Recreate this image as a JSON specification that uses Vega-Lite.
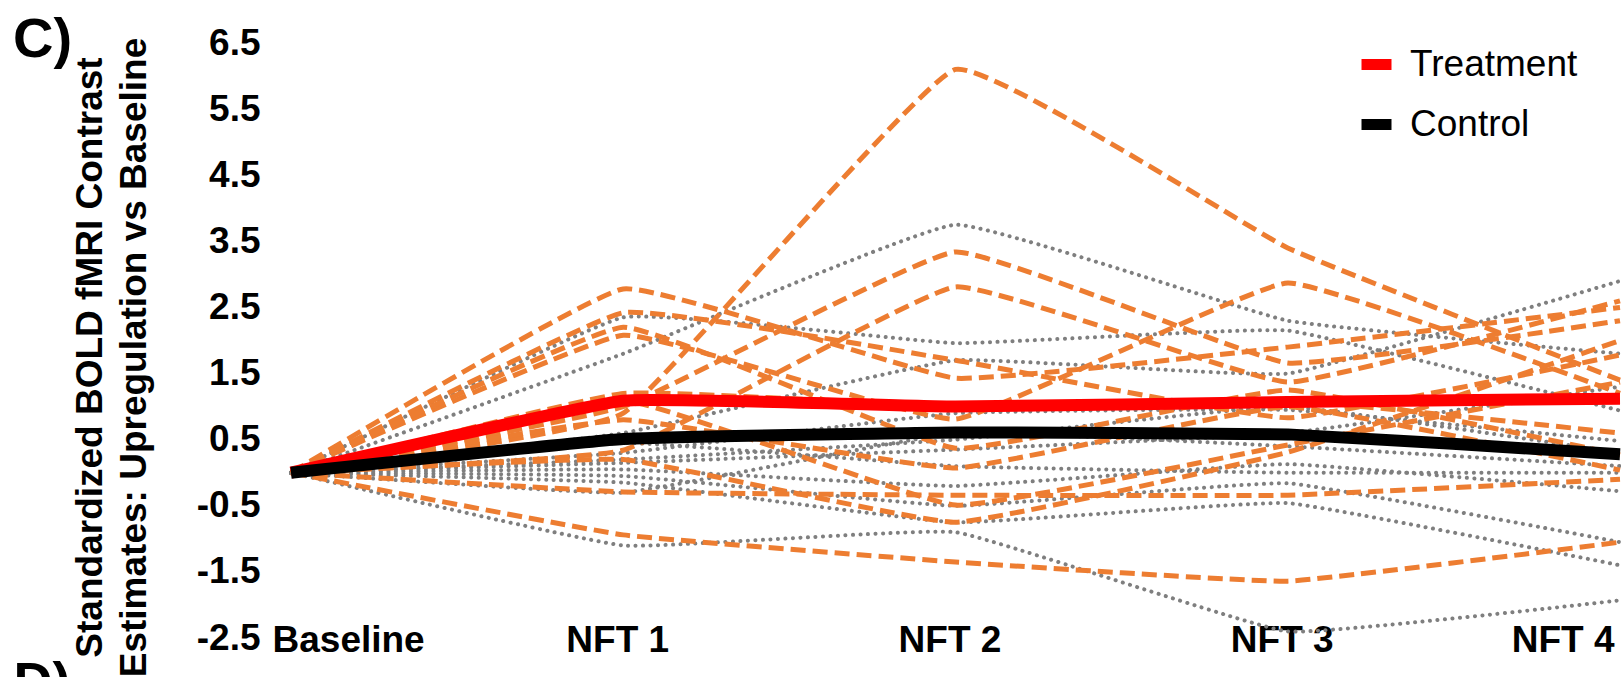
{
  "$schema": "https://vega.github.io/schema/vega-lite/v6.json",
  "autosize": {"type": "none"},
  "padding": {"left": 291, "top": 43, "right": 1, "bottom": 39},
  "width": 1329,
  "height": 595,
  "background": "white",
  "config": {
    "view": {"stroke": null},
    "font": "Liberation Sans"
  },
  "title": {
    "text": "C)",
    "anchor": "start",
    "frame": "group",
    "orient": "top",
    "fontSize": 56,
    "fontWeight": "bold",
    "font": "Liberation Sans",
    "color": "#000000",
    "baseline": "alphabetic",
    "offset": 0,
    "dx": -278,
    "dy": 89
  },
  "datasets": {
    "subjects": [
      {"subject": "T1", "group": "Treatment", "time": "Baseline", "value": 0},
      {"subject": "T1", "group": "Treatment", "time": "NFT 1", "value": 0.9},
      {"subject": "T1", "group": "Treatment", "time": "NFT 2", "value": 6.1},
      {"subject": "T1", "group": "Treatment", "time": "NFT 3", "value": 3.4},
      {"subject": "T1", "group": "Treatment", "time": "NFT 4", "value": 1.4},
      {"subject": "T2", "group": "Treatment", "time": "Baseline", "value": 0},
      {"subject": "T2", "group": "Treatment", "time": "NFT 1", "value": 1.0},
      {"subject": "T2", "group": "Treatment", "time": "NFT 2", "value": 3.34},
      {"subject": "T2", "group": "Treatment", "time": "NFT 3", "value": 1.66},
      {"subject": "T2", "group": "Treatment", "time": "NFT 4", "value": 2.3},
      {"subject": "T3", "group": "Treatment", "time": "Baseline", "value": 0},
      {"subject": "T3", "group": "Treatment", "time": "NFT 1", "value": 0.34},
      {"subject": "T3", "group": "Treatment", "time": "NFT 2", "value": 2.81},
      {"subject": "T3", "group": "Treatment", "time": "NFT 3", "value": 1.37},
      {"subject": "T3", "group": "Treatment", "time": "NFT 4", "value": 2.6},
      {"subject": "T4", "group": "Treatment", "time": "Baseline", "value": 0},
      {"subject": "T4", "group": "Treatment", "time": "NFT 1", "value": 2.78},
      {"subject": "T4", "group": "Treatment", "time": "NFT 2", "value": 1.43},
      {"subject": "T4", "group": "Treatment", "time": "NFT 3", "value": 1.9},
      {"subject": "T4", "group": "Treatment", "time": "NFT 4", "value": 2.5},
      {"subject": "T5", "group": "Treatment", "time": "Baseline", "value": 0},
      {"subject": "T5", "group": "Treatment", "time": "NFT 1", "value": 2.42},
      {"subject": "T5", "group": "Treatment", "time": "NFT 2", "value": 1.7},
      {"subject": "T5", "group": "Treatment", "time": "NFT 3", "value": 0.83},
      {"subject": "T5", "group": "Treatment", "time": "NFT 4", "value": 1.78},
      {"subject": "T6", "group": "Treatment", "time": "Baseline", "value": 0},
      {"subject": "T6", "group": "Treatment", "time": "NFT 1", "value": 2.08},
      {"subject": "T6", "group": "Treatment", "time": "NFT 2", "value": 0.81},
      {"subject": "T6", "group": "Treatment", "time": "NFT 3", "value": 2.87},
      {"subject": "T6", "group": "Treatment", "time": "NFT 4", "value": 1.2},
      {"subject": "T7", "group": "Treatment", "time": "Baseline", "value": 0},
      {"subject": "T7", "group": "Treatment", "time": "NFT 1", "value": 2.2},
      {"subject": "T7", "group": "Treatment", "time": "NFT 2", "value": 0.37},
      {"subject": "T7", "group": "Treatment", "time": "NFT 3", "value": 1.25},
      {"subject": "T7", "group": "Treatment", "time": "NFT 4", "value": 0.27},
      {"subject": "T8", "group": "Treatment", "time": "Baseline", "value": 0},
      {"subject": "T8", "group": "Treatment", "time": "NFT 1", "value": 1.1},
      {"subject": "T8", "group": "Treatment", "time": "NFT 2", "value": -0.49},
      {"subject": "T8", "group": "Treatment", "time": "NFT 3", "value": 0.42},
      {"subject": "T8", "group": "Treatment", "time": "NFT 4", "value": 1.37},
      {"subject": "T9", "group": "Treatment", "time": "Baseline", "value": 0},
      {"subject": "T9", "group": "Treatment", "time": "NFT 1", "value": 0.8},
      {"subject": "T9", "group": "Treatment", "time": "NFT 2", "value": 0.07},
      {"subject": "T9", "group": "Treatment", "time": "NFT 3", "value": 1.0},
      {"subject": "T9", "group": "Treatment", "time": "NFT 4", "value": 0.04},
      {"subject": "T10", "group": "Treatment", "time": "Baseline", "value": 0},
      {"subject": "T10", "group": "Treatment", "time": "NFT 1", "value": -0.29},
      {"subject": "T10", "group": "Treatment", "time": "NFT 2", "value": -0.34},
      {"subject": "T10", "group": "Treatment", "time": "NFT 3", "value": -0.34},
      {"subject": "T10", "group": "Treatment", "time": "NFT 4", "value": -0.1},
      {"subject": "T11", "group": "Treatment", "time": "Baseline", "value": 0},
      {"subject": "T11", "group": "Treatment", "time": "NFT 1", "value": -0.94},
      {"subject": "T11", "group": "Treatment", "time": "NFT 2", "value": -1.35},
      {"subject": "T11", "group": "Treatment", "time": "NFT 3", "value": -1.64},
      {"subject": "T11", "group": "Treatment", "time": "NFT 4", "value": -1.05},
      {"subject": "T12", "group": "Treatment", "time": "Baseline", "value": 0},
      {"subject": "T12", "group": "Treatment", "time": "NFT 1", "value": 0.2},
      {"subject": "T12", "group": "Treatment", "time": "NFT 2", "value": -0.75},
      {"subject": "T12", "group": "Treatment", "time": "NFT 3", "value": 0.31},
      {"subject": "T12", "group": "Treatment", "time": "NFT 4", "value": 2.0},
      {"subject": "T13", "group": "Treatment", "time": "Baseline", "value": 0},
      {"subject": "T13", "group": "Treatment", "time": "NFT 1", "value": 1.2},
      {"subject": "T13", "group": "Treatment", "time": "NFT 2", "value": 1.0},
      {"subject": "T13", "group": "Treatment", "time": "NFT 3", "value": 1.1},
      {"subject": "T13", "group": "Treatment", "time": "NFT 4", "value": 0.6},
      {"subject": "C1", "group": "Control", "time": "Baseline", "value": 0},
      {"subject": "C1", "group": "Control", "time": "NFT 1", "value": 1.8},
      {"subject": "C1", "group": "Control", "time": "NFT 2", "value": 3.75},
      {"subject": "C1", "group": "Control", "time": "NFT 3", "value": 2.3},
      {"subject": "C1", "group": "Control", "time": "NFT 4", "value": 1.8},
      {"subject": "C2", "group": "Control", "time": "Baseline", "value": 0},
      {"subject": "C2", "group": "Control", "time": "NFT 1", "value": 2.35},
      {"subject": "C2", "group": "Control", "time": "NFT 2", "value": 1.96},
      {"subject": "C2", "group": "Control", "time": "NFT 3", "value": 2.15},
      {"subject": "C2", "group": "Control", "time": "NFT 4", "value": 0.94},
      {"subject": "C3", "group": "Control", "time": "Baseline", "value": 0},
      {"subject": "C3", "group": "Control", "time": "NFT 1", "value": 0.6},
      {"subject": "C3", "group": "Control", "time": "NFT 2", "value": 1.7},
      {"subject": "C3", "group": "Control", "time": "NFT 3", "value": 1.5},
      {"subject": "C3", "group": "Control", "time": "NFT 4", "value": 2.9},
      {"subject": "C4", "group": "Control", "time": "Baseline", "value": 0},
      {"subject": "C4", "group": "Control", "time": "NFT 1", "value": 0.3},
      {"subject": "C4", "group": "Control", "time": "NFT 2", "value": 0.9},
      {"subject": "C4", "group": "Control", "time": "NFT 3", "value": 0.95},
      {"subject": "C4", "group": "Control", "time": "NFT 4", "value": 0.48},
      {"subject": "C5", "group": "Control", "time": "Baseline", "value": 0},
      {"subject": "C5", "group": "Control", "time": "NFT 1", "value": 0.15},
      {"subject": "C5", "group": "Control", "time": "NFT 2", "value": 0.35},
      {"subject": "C5", "group": "Control", "time": "NFT 3", "value": 0.6},
      {"subject": "C5", "group": "Control", "time": "NFT 4", "value": 1.3},
      {"subject": "C6", "group": "Control", "time": "Baseline", "value": 0},
      {"subject": "C6", "group": "Control", "time": "NFT 1", "value": 0.05},
      {"subject": "C6", "group": "Control", "time": "NFT 2", "value": -0.2},
      {"subject": "C6", "group": "Control", "time": "NFT 3", "value": 0.13},
      {"subject": "C6", "group": "Control", "time": "NFT 4", "value": -0.28},
      {"subject": "C7", "group": "Control", "time": "Baseline", "value": 0},
      {"subject": "C7", "group": "Control", "time": "NFT 1", "value": -0.05},
      {"subject": "C7", "group": "Control", "time": "NFT 2", "value": -0.5},
      {"subject": "C7", "group": "Control", "time": "NFT 3", "value": -0.16},
      {"subject": "C7", "group": "Control", "time": "NFT 4", "value": -1.05},
      {"subject": "C8", "group": "Control", "time": "Baseline", "value": 0},
      {"subject": "C8", "group": "Control", "time": "NFT 1", "value": -0.15},
      {"subject": "C8", "group": "Control", "time": "NFT 2", "value": -0.75},
      {"subject": "C8", "group": "Control", "time": "NFT 3", "value": -0.46},
      {"subject": "C8", "group": "Control", "time": "NFT 4", "value": -1.4},
      {"subject": "C9", "group": "Control", "time": "Baseline", "value": 0},
      {"subject": "C9", "group": "Control", "time": "NFT 1", "value": -0.3},
      {"subject": "C9", "group": "Control", "time": "NFT 2", "value": 0.6},
      {"subject": "C9", "group": "Control", "time": "NFT 3", "value": 0.4},
      {"subject": "C9", "group": "Control", "time": "NFT 4", "value": 0.1},
      {"subject": "C10", "group": "Control", "time": "Baseline", "value": 0},
      {"subject": "C10", "group": "Control", "time": "NFT 1", "value": -1.1},
      {"subject": "C10", "group": "Control", "time": "NFT 2", "value": -0.9},
      {"subject": "C10", "group": "Control", "time": "NFT 3", "value": -2.4},
      {"subject": "C10", "group": "Control", "time": "NFT 4", "value": -1.93},
      {"subject": "C11", "group": "Control", "time": "Baseline", "value": 0},
      {"subject": "C11", "group": "Control", "time": "NFT 1", "value": 0.45},
      {"subject": "C11", "group": "Control", "time": "NFT 2", "value": 0.1},
      {"subject": "C11", "group": "Control", "time": "NFT 3", "value": 0.0},
      {"subject": "C11", "group": "Control", "time": "NFT 4", "value": 0.0},
      {"subject": "C12", "group": "Control", "time": "Baseline", "value": 0},
      {"subject": "C12", "group": "Control", "time": "NFT 1", "value": 0.2},
      {"subject": "C12", "group": "Control", "time": "NFT 2", "value": 0.5},
      {"subject": "C12", "group": "Control", "time": "NFT 3", "value": 1.0},
      {"subject": "C12", "group": "Control", "time": "NFT 4", "value": 0.3}
    ],
    "means": [
      {"group": "Treatment", "time": "Baseline", "value": 0},
      {"group": "Treatment", "time": "NFT 1", "value": 1.09},
      {"group": "Treatment", "time": "NFT 2", "value": 1.0},
      {"group": "Treatment", "time": "NFT 3", "value": 1.07},
      {"group": "Treatment", "time": "NFT 4", "value": 1.12},
      {"group": "Control", "time": "Baseline", "value": 0},
      {"group": "Control", "time": "NFT 1", "value": 0.51},
      {"group": "Control", "time": "NFT 2", "value": 0.61},
      {"group": "Control", "time": "NFT 3", "value": 0.58},
      {"group": "Control", "time": "NFT 4", "value": 0.28}
    ]
  },
  "encoding": {
    "x": {
      "field": "time",
      "type": "ordinal",
      "scale": {"type": "point", "padding": 0, "domain": ["Baseline", "NFT 1", "NFT 2", "NFT 3", "NFT 4"]},
      "axis": {
        "orient": "bottom",
        "domain": false,
        "ticks": false,
        "grid": false,
        "labelAngle": 0,
        "labelFont": "Liberation Sans",
        "labelFontSize": 37,
        "labelFontWeight": "bold",
        "labelColor": "#000000",
        "labelBaseline": "middle",
        "labelPadding": 2,
        "labelFlush": true,
        "labelOffset": {"condition": {"test": "datum.value === 'Baseline'", "value": -19}, "value": -6},
        "title": "D)",
        "titleFont": "Liberation Sans",
        "titleFontSize": 54,
        "titleFontWeight": "bold",
        "titleColor": "#000000",
        "titleAlign": "left",
        "titleBaseline": "alphabetic",
        "titleX": -278,
        "titleY": 61
      }
    },
    "y": {
      "field": "value",
      "type": "quantitative",
      "scale": {"domain": [-2.5, 6.5], "nice": false, "zero": false},
      "axis": {
        "values": [-2.5, -1.5, -0.5, 0.5, 1.5, 2.5, 3.5, 4.5, 5.5, 6.5],
        "labelExpr": "replace(format(datum.value, '.1f'), '−', '-')",
        "domain": false,
        "ticks": false,
        "grid": false,
        "labelFont": "Liberation Sans",
        "labelFontSize": 37,
        "labelFontWeight": "bold",
        "labelColor": "#000000",
        "labelPadding": 31,
        "title": ["Standardized BOLD fMRI Contrast", "Estimates: Upregulation vs Baseline"],
        "titleFont": "Liberation Sans",
        "titleFontSize": 37,
        "titleFontWeight": "bold",
        "titleColor": "#000000",
        "titleLineHeight": 44,
        "titleAngle": -90,
        "titleAlign": "center",
        "titleBaseline": "alphabetic",
        "titleX": -190,
        "titleY": 314
      }
    }
  },
  "layer": [
    {
      "mark": {"type": "rule", "color": "#D9D9D9", "strokeWidth": 1.5},
      "encoding": {"y": {"datum": 0}, "x": null}
    },
    {
      "data": {"name": "subjects"},
      "transform": [{"filter": "datum.group === 'Control'"}],
      "mark": {"type": "line", "interpolate": "cardinal", "tension": 0.7, "color": "#7F7F7F", "strokeWidth": 4, "strokeCap": "round", "strokeDash": [0.1, 7.4]},
      "encoding": {"detail": {"field": "subject"}}
    },
    {
      "data": {"name": "subjects"},
      "transform": [{"filter": "datum.group === 'Treatment'"}],
      "mark": {"type": "line", "interpolate": "cardinal", "tension": 0.7, "color": "#ED7D31", "strokeWidth": 5, "strokeDash": [15, 7]},
      "encoding": {"detail": {"field": "subject"}}
    },
    {
      "data": {"name": "means"},
      "mark": {"type": "line", "interpolate": "cardinal", "tension": 0.7, "strokeWidth": 12, "strokeJoin": "round"},
      "encoding": {
        "color": {
          "field": "group",
          "type": "nominal",
          "scale": {"domain": ["Treatment", "Control"], "range": ["#FF0000", "#000000"]},
          "legend": {
            "title": null,
            "orient": "none",
            "legendX": 1065,
            "legendY": 1,
            "padding": 0,
            "symbolType": "stroke",
            "symbolSize": 900,
            "symbolStrokeWidth": 11,
            "labelFont": "Liberation Sans",
            "labelFontSize": 37,
            "labelColor": "#000000",
            "labelOffset": 13,
            "rowPadding": 15,
            "labelLimit": 400
          }
        }
      }
    }
  ]
}
